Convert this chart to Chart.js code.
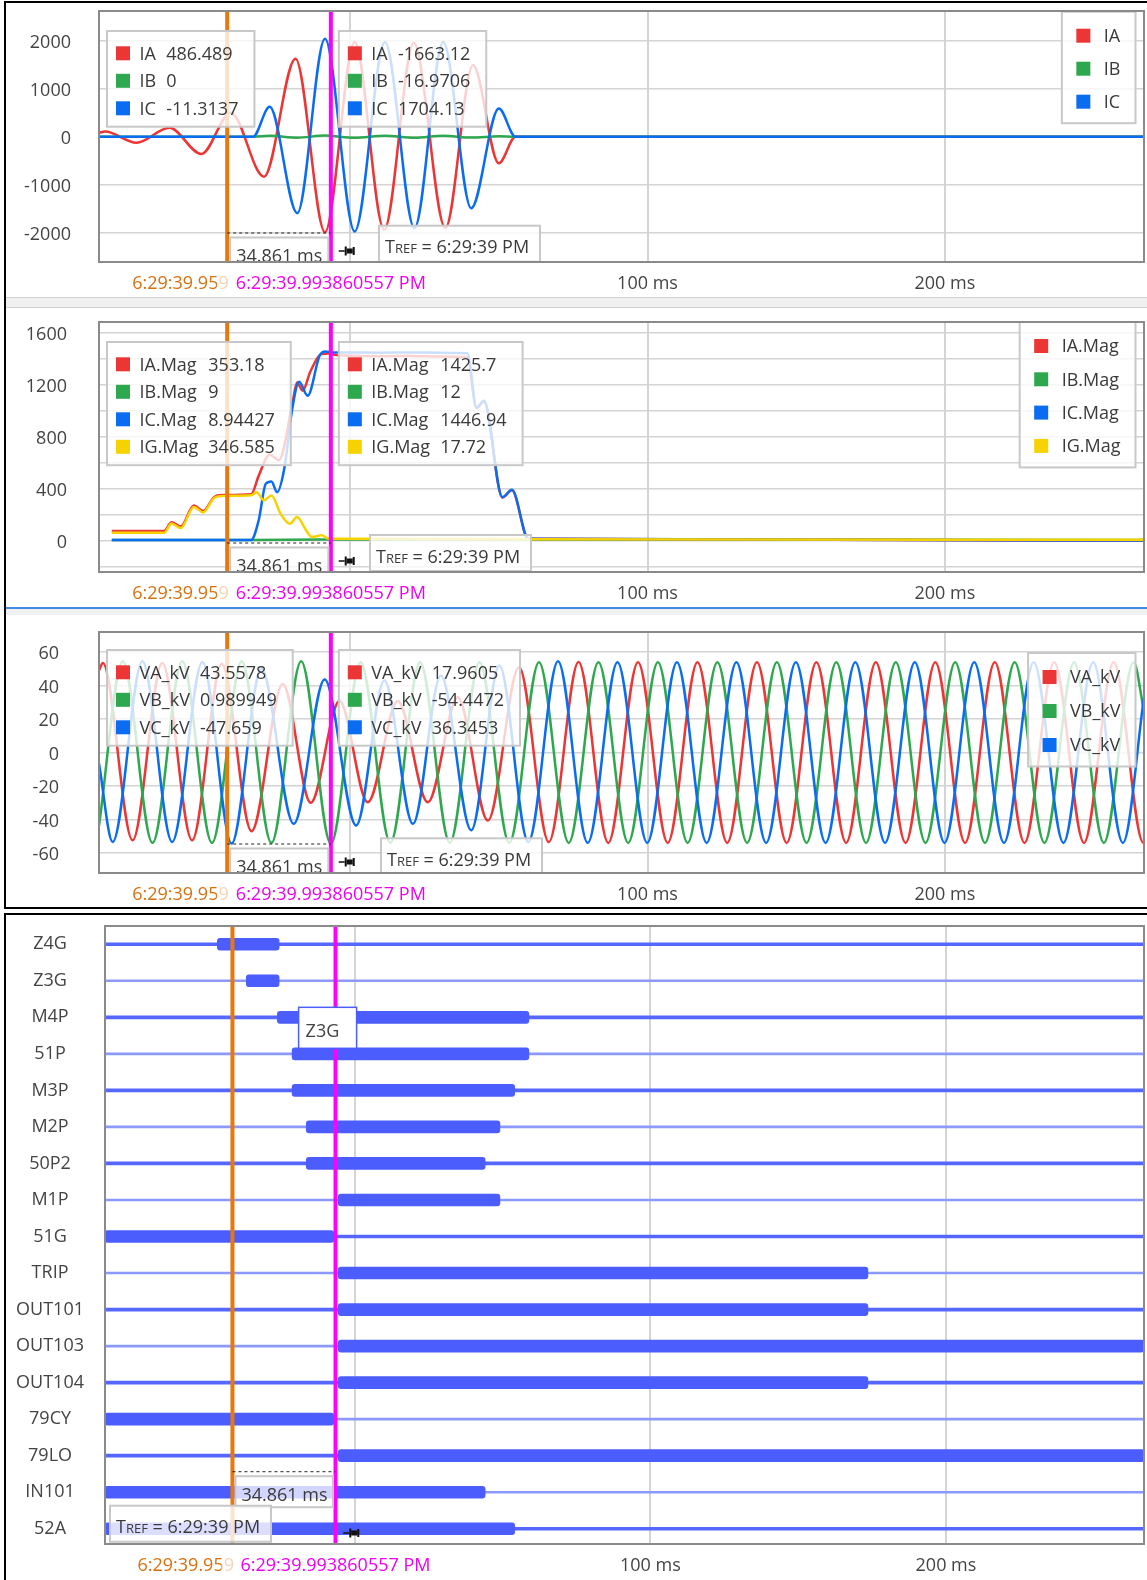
<!DOCTYPE html>
<html lang="en">
<head>
<meta charset="UTF-8">
<title>Event report</title>
<script src="https://cdn.jsdelivr.net/npm/chart.js"></script>
<style>
  body { margin: 0; background: #fff; width: 1147px; height: 1580px; overflow: hidden; position: relative; }
  .frame { position: absolute; border: 2px solid #000; border-right: none; box-sizing: border-box; }
  .split { position: absolute; left: 6px; width: 1141px; background: #f0f0f0; box-sizing: border-box; }
  canvas { position: absolute; left: 6px; }
</style>
</head>
<body>
<div class="frame" style="left:4px; top:1px; width:1200px; height:908px;"></div>
<div class="split" style="top:297px; height:11px; border-top:1px solid #d0d0d0; border-bottom:1px solid #d0d0d0;"></div>
<div class="split" style="top:607px; height:8px; border-top:2px solid #3d8be0;"></div>
<div class="frame" style="left:4px; top:913px; width:1200px; height:700px;"></div>
<canvas id="c1" width="1141" height="294" style="top:3px"></canvas>
<canvas id="c2" width="1141" height="299" style="top:308px"></canvas>
<canvas id="c3" width="1141" height="292" style="top:615px"></canvas>
<canvas id="c4" width="1141" height="665" style="top:915px"></canvas>
<script>
// time axis (ms relative to TREF)
const T_MIN = -84.5, T_MAX = 267;
const T_ORANGE = -41.38, T_MAGENTA = -6.52;
const T_ORANGE_TXT = '6:29:39.959000000 PM';
const T_MAGENTA_TXT = '6:29:39.993860557 PM';
const timeTicks = [0, 100, 200];

// panel 1 - phase currents, read at peaks / knees
const iTicks = [-2000, -1000, 0, 1000, 2000];
const iaT = [-84.5, -82.5, -71.9, -60.8, -50.1, -40.2, -29.0, -18.4, -8.5, 1.5, 11.4, 21.4, 32.0, 41.3, 50.0, 55.6, 267];
const iaV = [80, 110, -124, 186, -359, 500, -828, 1620, -1980, 1965, -1931, 1950, -1897, 1483, -552, 0, 0];
const ibT = [-84.5, -32.7, -27.1, -17.8, -8.5, 1.5, 11.7, 21.6, 31.3, 40.7, 50.0, 55.6, 267];
const ibV = [0, 0, 18, -20, 25, -22, 20, -20, 22, -18, 10, 0, 0];
const icT = [-84.5, -32.7, -27.1, -17.8, -8.5, 1.5, 11.7, 21.6, 31.3, 40.7, 50.0, 55.6, 267];
const icV = [0, 0, 620, -1586, 2034, -1966, 1965, -1897, 1965, -1483, 586, 0, 0];

// panel 2 - magnitudes
const magTicks = [-200, 0, 200, 400, 600, 800, 1000, 1200, 1400, 1600];
const iaMagT = [-80.2, -62.6, -60.1, -57.0, -52.6, -49.5, -45.8, -43.3, -33.3, -30.8, -27.1, -24.0, -19.4, -17.9, -16.0, -13.4, -9.7, -7.2, -4.7, 0, 10, 20, 30, 39.4, 42.5, 45.0, 51.2, 54.4, 59.9, 267];
const iaMagV = [77, 77, 145, 112, 273, 230, 337, 353, 360, 500, 663, 620, 1060, 1217, 1153, 1300, 1434, 1438, 1426, 1422, 1418, 1420, 1416, 1410, 1020, 1070, 335, 390, 18, 4];
const ibMagT = [-80.2, -33.3, -10, 60, 267];
const ibMagV = [9, 9, 12, 12, 8];
const icMagT = [-80.2, -33.3, -30.8, -28.4, -26.5, -24.6, -22.1, -19.6, -17.2, -14.3, -10.3, -8.4, -6.0, 0, 10, 20, 30, 39.4, 42.5, 45.0, 51.2, 54.4, 59.9, 267];
const icMagV = [9, 9, 158, 439, 457, 375, 566, 1000, 1222, 1115, 1421, 1454, 1447, 1446, 1445, 1447, 1445, 1440, 1025, 1077, 337, 393, 18, 4];
const igMagT = [-80.2, -62.6, -60.1, -57.0, -52.6, -49.5, -45.8, -43.3, -33.3, -31.5, -29.0, -26.5, -23.4, -20.3, -17.9, -14.8, -12.9, -9.7, -7.2, 0, 60, 267];
const igMagV = [64, 64, 135, 100, 262, 220, 330, 346, 352, 375, 311, 350, 209, 133, 184, 82, 31, 44, 18, 17.7, 14, 10];

// panel 3 - phase voltages (kV), peaks and troughs
const vTicks = [-60, -40, -20, 0, 20, 40, 60];
const vaT = [-84.5, -83.2, -73.2, -63.2, -53.2, -43.2, -33.2, -22.7, -13.3, -3.6, 5.9, 16.0, 26.1, 36.2, 46.3, 56.8, 66.8, 76.8, 86.8, 96.8, 106.8, 116.8, 126.8, 136.8, 146.8, 156.8, 166.8, 176.8, 186.8, 196.8, 206.8, 216.8, 226.8, 236.8, 246.8, 256.8, 266.8, 267];
const vaV = [49, 53.5, -52.5, 53.5, -52.5, 53, -47, 41, -30, 30.7, -29.7, 30.7, -29.7, 33, -40.6, 51, -53.5, 54, -54, 54, -54, 54, -54, 54, -54, 54, -54, 54, -54, 54, -54, 54, -54, 54, -54, 54, -54, -54];
const vbT = [-84.5, -76.5, -66.5, -56.5, -46.5, -36.5, -26.5, -16.5, -6.5, 3.5, 13.5, 23.5, 33.5, 43.5, 53.5, 63.5, 73.5, 83.5, 93.5, 103.5, 113.5, 123.5, 133.5, 143.5, 153.5, 163.5, 173.5, 183.5, 193.5, 203.5, 213.5, 223.5, 233.5, 243.5, 253.5, 263.5, 267];
const vbV = [-43.7, 54.5, -54, 54.5, -54, 54.5, -54, 54.5, -54.5, 54, -54, 54, -54, 54, -54, 54, -54, 54, -54, 54, -54, 54, -54, 54, -54, 54, -54, 54, -54, 54, -54, 54, -54, 54, -54, 54, 24.5];
const vcT = [-84.5, -79.9, -69.9, -59.9, -49.7, -39.9, -29.9, -19.0, -8.6, 2.0, 11.5, 21.1, 30.5, 40.7, 50.2, 59.9, 69.9, 79.9, 89.9, 99.9, 109.9, 119.9, 129.9, 139.9, 149.9, 159.9, 169.9, 179.9, 189.9, 199.9, 209.9, 219.9, 229.9, 239.9, 249.9, 259.9, 267];
const vcV = [-6.6, -53.5, 54.5, -53.5, 54, -54.4, 50, -42.6, 43.6, -43.6, 43, -42.6, 46, -46.5, 52, -53.5, 54.5, -54, 54, -54, 54, -54, 54, -54, 54, -54, 54, -54, 54, -54, 54, -54, 54, -54, 54, -54, 33];

// panel 4 - digital elements, asserted from sigOn to sigOff
const sigNames = ['Z4G', 'Z3G', 'M4P', '51P', 'M3P', 'M2P', '50P2', 'M1P', '51G', 'TRIP', 'OUT101', 'OUT103', 'OUT104', '79CY', '79LO', 'IN101', '52A'];
const sigOn  = [-46.5, -36.7, -26.2, -21.2, -21.2, -16.4, -16.4, -5.6, -84.5, -5.6, -5.6, -5.6, -5.6, -84.5, -5.6, -84.5, -84.5];
const sigOff = [-25.6, -25.6, 58.9, 58.9, 54.1, 49.1, 44.1, 49.1, -7.1, 173.6, 173.6, 267, 173.6, -7.1, 267, 44.1, 54.1];

const RED = '#ec3535', GREEN = '#2ea84f', BLUE = '#0a6cf0', YELLOW = '#f6d300';
const ORANGE = '#e8770c', MAGENTA = '#ff00ff';
const GRID = '#d4d4d4', FRAME = '#8a8a8a', TXT = '#3a3a3a', BAR = '#4c5dfd';
const FONT = '18px "Open Sans"';

Chart.defaults.font.family = '"Open Sans", sans-serif';
Chart.defaults.font.size = 18;
Chart.defaults.color = '#444';
Chart.defaults.animation = false;
Chart.defaults.events = [];
Chart.defaults.plugins.legend.display = false;
Chart.defaults.plugins.tooltip.enabled = false;

function series(label, ts, vs, color, order) {
    return {
        label: label,
        data: ts.map((t, i) => ({ x: t, y: vs[i] })),
        borderColor: color,
        backgroundColor: color,
        borderWidth: 2.5,
        pointRadius: 0,
        cubicInterpolationMode: 'monotone',
        order: order
    };
}

function fixedTicks(list) {
    return s => { s.ticks = list.map(v => ({ value: v })); };
}

function xAxis(h, pad) {
    return {
        type: 'linear', min: T_MIN, max: T_MAX,
        grid: { color: GRID, lineWidth: 2, drawTicks: false },
        border: { display: false },
        afterBuildTicks: fixedTicks(timeTicks),
        ticks: { padding: pad, maxRotation: 0, autoSkip: false,
                 callback: v => v === 0 ? '' : v + ' ms' },
        afterFit: s => { s.height = h; s.paddingLeft = 0; s.paddingRight = 0; }
    };
}

function yAxis(min, max, list, pad, cb) {
    return {
        min: min, max: max,
        grid: { color: GRID, lineWidth: 1.5, drawTicks: false },
        border: { display: false },
        afterBuildTicks: fixedTicks(list),
        ticks: { padding: pad, labelOffset: 2, autoSkip: false, callback: cb },
        afterFit: s => { s.width = 93; s.paddingTop = 0; s.paddingBottom = 0; }
    };
}

function panelRect(ctx, x, y, w, h, alpha) {
    ctx.fillStyle = 'rgba(255,255,255,' + alpha + ')';
    ctx.fillRect(x, y, w, h);
    ctx.strokeStyle = '#c8c8c8';
    ctx.lineWidth = 2;
    ctx.strokeRect(x, y, w, h);
}

function vline(ctx, x, a, color) {
    ctx.fillStyle = color;
    ctx.fillRect(x - 2, a.top, 4, a.bottom - a.top);
}

function valueBox(ctx, bx, by, names, vals, colors) {
    ctx.font = FONT;
    ctx.textAlign = 'left';
    ctx.textBaseline = 'alphabetic';
    const nameW = Math.max(...names.map(n => ctx.measureText(n).width));
    const valW = Math.max(...vals.map(v => ctx.measureText(v).width));
    const nx = bx + 32.5, vx = nx + nameW + 10;
    const w = vx + valW + 16 - bx;
    const h = 22.3 + (names.length - 1) * 27.5 + 18.4;
    panelRect(ctx, bx, by, w, h, 0.78);
    names.forEach((n, i) => {
        const cy = by + 22.3 + i * 27.5;
        ctx.fillStyle = colors[i];
        ctx.fillRect(bx + 9, cy - 7, 14, 14);
        ctx.fillStyle = TXT;
        ctx.fillText(n, nx, cy + 6.4);
        ctx.fillText(vals[i], vx, cy + 6.4);
    });
}

function legendBox(ctx, right, top, names, colors, gap) {
    ctx.font = FONT;
    ctx.textAlign = 'left';
    ctx.textBaseline = 'alphabetic';
    const tw = Math.max(...names.map(n => ctx.measureText(n).width));
    const w = 42 + tw + 15, h = 24 + (names.length - 1) * gap + 21.5, l = right - w;
    panelRect(ctx, l, top, w, h, 0.8);
    names.forEach((n, i) => {
        const cy = top + 24 + i * gap;
        ctx.fillStyle = colors[i];
        ctx.fillRect(l + 14.5, cy - 7, 14, 14);
        ctx.fillStyle = TXT;
        ctx.fillText(n, l + 42, cy + 6.4);
    });
}

function measureBox(ctx, xo, xm, m) {
    ctx.strokeStyle = '#222';
    ctx.lineWidth = 1;
    ctx.setLineDash([3, 3]);
    ctx.beginPath();
    ctx.moveTo(xo, m.line + 0.5);
    ctx.lineTo(xm, m.line + 0.5);
    ctx.stroke();
    ctx.setLineDash([]);
    panelRect(ctx, xo + 3, m.top, xm - xo - 5.5, m.h, 0.75);
    ctx.font = FONT;
    ctx.textAlign = 'left';
    ctx.textBaseline = 'alphabetic';
    ctx.fillStyle = TXT;
    ctx.fillText('34.861 ms', xo + 9, m.top + 24.5);
}

function trefBox(ctx, bx, by) {
    panelRect(ctx, bx, by, 161, 36, 0.8);
    ctx.fillStyle = TXT;
    ctx.textAlign = 'left';
    ctx.textBaseline = 'alphabetic';
    let tx = bx + 6;
    const base = by + 27.5;
    ctx.font = FONT;
    ctx.fillText('T', tx, base);
    tx += ctx.measureText('T').width;
    ctx.font = '13px "Open Sans"';
    ctx.fillText('REF', tx, base);
    tx += ctx.measureText('REF').width;
    ctx.font = FONT;
    ctx.fillText(' = 6:29:39 PM', tx, base);
}

function pin(ctx, cx, cy) {
    ctx.fillStyle = '#111';
    ctx.fillRect(cx - 8, cy - 0.75, 6, 1.5);
    ctx.fillRect(cx - 2, cy - 4.5, 2, 9);
    ctx.fillRect(cx, cy - 2.5, 6, 5);
    ctx.fillRect(cx + 6, cy - 4, 2, 8);
}

function timeLabels(ctx, xo, xm, y) {
    ctx.font = FONT;
    ctx.textAlign = 'center';
    ctx.textBaseline = 'middle';
    ctx.fillStyle = '#d9700f';
    ctx.fillText(T_ORANGE_TXT, xo, y);
    const w = ctx.measureText(T_MAGENTA_TXT).width, l = xm - w / 2;
    ctx.fillStyle = 'rgba(255,255,255,0.7)';
    ctx.fillRect(l - 19, y - 12, 11, 24);
    ctx.fillStyle = '#fff';
    ctx.fillRect(l - 8, y - 12, w + 12, 24);
    ctx.fillStyle = '#f000f0';
    ctx.fillText(T_MAGENTA_TXT, xm, y);
}

function overlay(p) {
    return {
        id: 'overlay',
        afterDatasetsDraw(chart) {
            const ctx = chart.ctx, a = chart.chartArea, xs = chart.scales.x;
            const xo = xs.getPixelForValue(T_ORANGE), xm = xs.getPixelForValue(T_MAGENTA);
            const x0 = xs.getPixelForValue(0);
            const bottom = a.bottom - (p.bottomInset || 0);
            ctx.save();
            if (bottom < a.bottom) {
                ctx.fillStyle = '#fff';
                ctx.fillRect(a.left - 1, bottom, a.right - a.left + 2, a.bottom - bottom + 1);
            }
            ctx.beginPath();
            ctx.rect(a.left, a.top, a.right - a.left, bottom - a.top);
            ctx.clip();
            vline(ctx, xo, a, ORANGE);
            vline(ctx, xm, a, MAGENTA);
            measureBox(ctx, xo, xm, p.measure(chart, bottom));
            if (p.names) {
                valueBox(ctx, a.left + 8, a.top + p.boxTop, p.names, p.valsO, p.colors);
                valueBox(ctx, xm + 8, a.top + p.boxTop, p.names, p.valsM, p.colors);
                legendBox(ctx, a.right - 8.5, a.top + p.legTop, p.names, p.colors, p.legGap);
            }
            const t = p.tref(chart, bottom);
            trefBox(ctx, t.x, t.y);
            pin(ctx, x0 - 3.5, bottom - 11);
            ctx.restore();
            ctx.save();
            if (p.extra) p.extra(chart);
            ctx.strokeStyle = FRAME;
            ctx.lineWidth = 2;
            ctx.strokeRect(a.left, a.top, a.right - a.left, bottom - a.top);
            timeLabels(ctx, xo, xm, bottom + 22);
            ctx.restore();
        }
    };
}

function waveChart(id, padTop, xh, y, datasets, p) {
    return new Chart(document.getElementById(id), {
        type: 'line',
        data: { datasets: datasets },
        options: {
            responsive: false,
            layout: { padding: { top: padTop, right: 3, left: 0, bottom: 0 } },
            scales: { x: xAxis(xh, 11), y: y }
        },
        plugins: [overlay(p)]
    });
}

function build() {
    const bottomMeasure = (c, b) => ({ line: b - 29.5, top: b - 24.5, h: 32 });

    waveChart('c1', 8, 35, yAxis(-2600, 2610, iTicks, 28, v => String(v)), [
        series('IA', iaT, iaV, RED, 2),
        series('IB', ibT, ibV, GREEN, 1),
        series('IC', icT, icV, BLUE, 0)
    ], {
        names: ['IA', 'IB', 'IC'], colors: [RED, GREEN, BLUE],
        valsO: ['486.489', '0', '-11.3137'], valsM: ['-1663.12', '-16.9706', '1704.13'],
        boxTop: 20, legTop: 0.7, legGap: 33,
        measure: bottomMeasure,
        tref: (c, b) => ({ x: c.chartArea.left + 280, y: b - 36.3 })
    });

    waveChart('c2', 14, 35, yAxis(-237, 1680, magTicks, 32, v => (v >= 0 && v % 400 === 0) ? String(v) : ''), [
        series('IA.Mag', iaMagT, iaMagV, RED, 2),
        series('IB.Mag', ibMagT, ibMagV, GREEN, 3),
        series('IC.Mag', icMagT, icMagV, BLUE, 1),
        series('IG.Mag', igMagT, igMagV, YELLOW, 0)
    ], {
        names: ['IA.Mag', 'IB.Mag', 'IC.Mag', 'IG.Mag'], colors: [RED, GREEN, BLUE, YELLOW],
        valsO: ['353.18', '9', '8.94427', '346.585'], valsM: ['1425.7', '12', '1446.94', '17.72'],
        boxTop: 20, legTop: 0, legGap: 33.3,
        measure: bottomMeasure,
        tref: (c, b) => ({ x: c.chartArea.left + 271, y: b - 37 })
    });

    waveChart('c3', 17, 34, yAxis(-72, 72, vTicks, 40, v => String(v)), [
        series('VA_kV', vaT, vaV, RED, 2),
        series('VB_kV', vbT, vbV, GREEN, 1),
        series('VC_kV', vcT, vcV, BLUE, 0)
    ], {
        names: ['VA_kV', 'VB_kV', 'VC_kV'], colors: [RED, GREEN, BLUE],
        valsO: ['43.5578', '0.989949', '-47.659'], valsM: ['17.9605', '-54.4472', '36.3453'],
        boxTop: 18, legTop: 21, legGap: 34,
        measure: bottomMeasure,
        tref: (c, b) => ({ x: c.chartArea.left + 282, y: b - 34.7 })
    });

    // digital channels
    const full = sigNames.map(() => [T_MIN, T_MAX]);
    new Chart(document.getElementById('c4'), {
        type: 'bar',
        data: {
            labels: sigNames,
            datasets: [
                { data: full.map((r, i) => i % 2 === 0 ? r : null), backgroundColor: '#5567ff',
                  barThickness: 3, grouped: false, order: 2 },
                { data: full.map((r, i) => i % 2 === 1 ? r : null), backgroundColor: '#8c99ff',
                  barThickness: 2, grouped: false, order: 1 },
                { data: sigOn.map((s, i) => [s, sigOff[i]]), backgroundColor: BAR,
                  barThickness: 12, borderRadius: 3, borderSkipped: false, grouped: false, order: 0 }
            ]
        },
        options: {
            responsive: false,
            indexAxis: 'y',
            layout: { padding: { top: 11, right: 3, left: 0, bottom: 0 } },
            scales: {
                x: xAxis(33, 8),
                y: {
                    type: 'category',
                    grid: { display: false },
                    border: { display: false },
                    ticks: { crossAlign: 'center', padding: 13, autoSkip: false },
                    afterFit: s => { s.width = 99; s.paddingTop = 0; s.paddingBottom = 0; }
                }
            }
        },
        plugins: [overlay({
            bottomInset: 3,
            measure: c => {
                const r = c.scales.y.getPixelForValue(15);
                return { line: r - 21, top: r - 16, h: 31 };
            },
            tref: c => ({ x: c.chartArea.left + 5, y: c.scales.y.getPixelForValue(16) - 23 }),
            extra: c => {
                const ctx = c.ctx;
                const bx = c.scales.x.getPixelForValue(-19), by = c.scales.y.getPixelForValue(2) - 10;
                ctx.fillStyle = '#fff';
                ctx.fillRect(bx, by, 58, 41);
                ctx.strokeStyle = BAR;
                ctx.lineWidth = 1.5;
                ctx.strokeRect(bx, by, 58, 41);
                ctx.fillStyle = '#444';
                ctx.font = FONT;
                ctx.textAlign = 'left';
                ctx.textBaseline = 'alphabetic';
                ctx.fillText('Z3G', bx + 7, by + 30);
            }
        })]
    });
}

document.fonts.load(FONT).then(build, build);
</script>
</body>
</html>
